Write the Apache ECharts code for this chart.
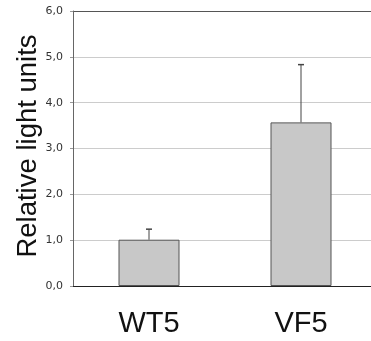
<!DOCTYPE html>
<html>
<head>
<meta charset="utf-8">
<script src="https://cdn.jsdelivr.net/npm/echarts@6/dist/echarts.min.js"></script>
<style>
  html, body { margin: 0; padding: 0; background: #fff; }
  #chart { width: 371px; height: 341px; }
</style>
</head>
<body>
<div id="chart"></div>
<script>
// categories and values
const categories = ['WT5', 'VF5']
const means = [1.01, 3.57]
const errors = [0.23, 1.26]
const yTicks = [0, 1, 2, 3, 4, 5, 6]

const chart = echarts.init(document.getElementById('chart'))

// error bars: line from bar top up to mean + error, small cap
const errorData = categories.map((c, i) => [i, means[i], means[i] + errors[i]])

const option = {
  animation: false,
  grid: {
    left: 73,
    width: 304,
    top: 11,
    bottom: 55,
    outerBoundsMode: 'none'
  },
  xAxis: {
    type: 'category',
    data: categories,
    axisTick: { show: false },
    axisLine: { lineStyle: { color: '#222', width: 1 } },
    axisLabel: {
      margin: 23,
      fontFamily: 'Liberation Sans',
      fontSize: 29,
      color: '#111'
    }
  },
  yAxis: {
    type: 'value',
    min: yTicks[0],
    max: yTicks[yTicks.length - 1],
    interval: 1,
    name: 'Relative light units',
    nameLocation: 'middle',
    nameGap: 31,
    nameMoveOverlap: false,
    nameTextStyle: {
      fontFamily: 'Liberation Sans',
      fontSize: 27.5,
      color: '#111',
      padding: [0, 0, 0, 5]
    },
    axisLine: { show: true, lineStyle: { color: '#666' } },
    axisTick: { show: true, length: 3, lineStyle: { color: '#999' } },
    axisLabel: {
      margin: 10,
      fontFamily: 'DejaVu Sans',
      fontSize: 11,
      color: '#333',
      formatter: v => v.toFixed(1).replace('.', ',')
    },
    splitLine: {
      show: true,
      lineStyle: {
        color: ['#ccc', '#ccc', '#ccc', '#ccc', '#ccc', '#ccc', '#555'],
        width: 1
      }
    }
  },
  series: [
    {
      type: 'bar',
      data: means,
      barWidth: 61,
      itemStyle: {
        color: '#c8c8c8',
        borderColor: '#555',
        borderWidth: 1
      },
      z: 2
    },
    {
      type: 'custom',
      data: errorData,
      z: 3,
      renderItem: function (params, api) {
        const x = api.value(0)
        const bottom = api.coord([x, api.value(1)])
        const top = api.coord([x, api.value(2)])
        const half = 3
        return {
          type: 'group',
          children: [
            {
              type: 'line',
              shape: { x1: top[0], y1: top[1], x2: bottom[0], y2: bottom[1] },
              style: { stroke: '#444', lineWidth: 1 }
            },
            {
              type: 'line',
              shape: { x1: top[0] - half, y1: top[1], x2: top[0] + half, y2: top[1] },
              style: { stroke: '#444', lineWidth: 1.5 }
            }
          ]
        }
      }
    }
  ]
}

chart.setOption(option)
window.addEventListener('resize', () => { chart.resize() })
</script>
</body>
</html>
